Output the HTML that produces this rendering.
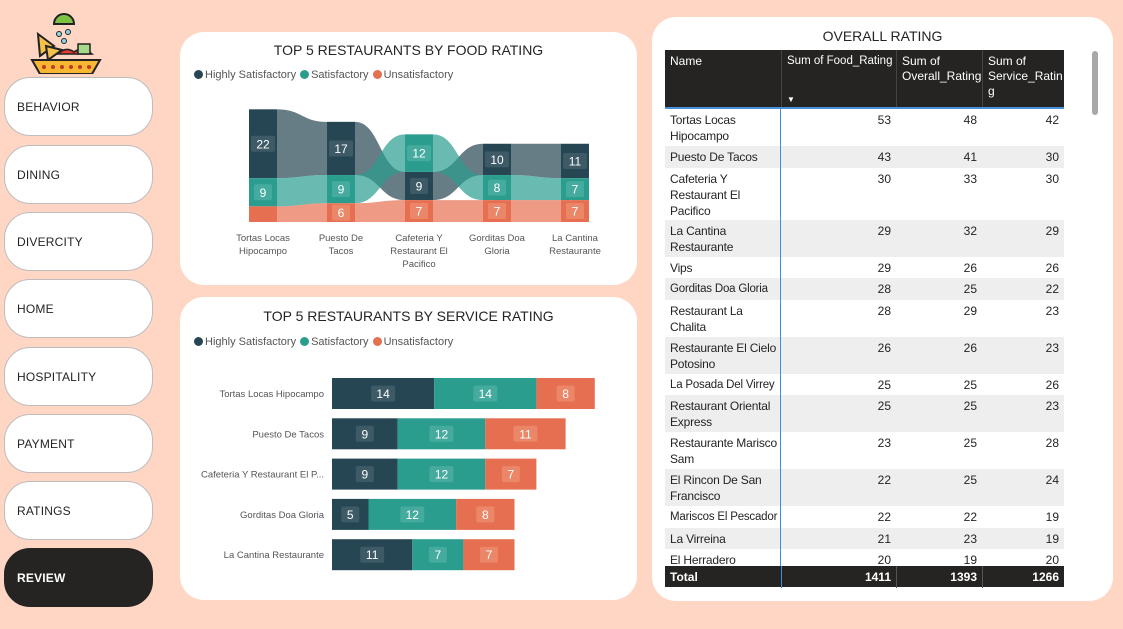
<!DOCTYPE html>
<html><head><meta charset="utf-8">
<style>
*{box-sizing:border-box;margin:0;padding:0}
body{width:1123px;height:629px;background:#ffd5c4;font-family:"Liberation Sans",sans-serif;position:relative;overflow:hidden}
.nav{position:absolute;left:4px;width:149px;height:59px;background:#fff;border:1px solid #bdbdbd;border-radius:26px;font-size:12px;color:#252423;padding-left:12px;line-height:59px;letter-spacing:0.2px}
.nav.active{background:#252423;color:#fff;font-weight:bold;border-color:#252423}
.panel{position:absolute;background:#fff;border-radius:24px}
.title{position:absolute;width:100%;text-align:center;font-size:14px;color:#252423}
.legend{position:absolute;font-size:11px;color:#555;display:flex;gap:4px;align-items:center}
.dot{display:inline-block;width:9px;height:9px;border-radius:50%;margin-right:2px;vertical-align:-1px}
#tbl{position:absolute;left:13px;top:33px;width:399px;height:538px;font-size:12px;color:#252423;overflow:hidden}
.hd{position:absolute;top:0;height:58px;background:#252423;color:#fff;padding:4px 5px;line-height:15px;white-space:nowrap;border-left:1px solid #444}
.row{position:absolute;left:0;width:399px}
.row.alt{background:#eeeeee}
.cell{position:absolute;top:0;padding:3px 5px;line-height:16px;white-space:nowrap}
.num{text-align:right}
.tot{position:absolute;left:0;top:516px;width:399px;height:21px;background:#252423;color:#fff;font-weight:bold}
</style></head><body>

<svg style="position:absolute;left:28px;top:6px" width="76" height="68" viewBox="0 0 76 68">
<path d="M26 18 a10 10 0 0 1 20 0z" fill="#7cc243" stroke="#222" stroke-width="2"/>
<circle cx="31" cy="28" r="2.5" fill="#8fd3e8" stroke="#222" stroke-width="1"/>
<circle cx="40" cy="26" r="2.5" fill="#8fd3e8" stroke="#222" stroke-width="1"/>
<circle cx="36" cy="35" r="2.5" fill="#8fd3e8" stroke="#222" stroke-width="1"/>
<path d="M10 28 L26 40 L12 50z" fill="#f7c04a" stroke="#222" stroke-width="2"/>
<path d="M18 40 L34 44 L20 54z" fill="#f7c04a" stroke="#222" stroke-width="2"/>
<path d="M30 48 q8-8 16-2 q8-6 18 2z" fill="#e63b2e" stroke="#222" stroke-width="1.5"/>
<rect x="50" y="38" width="12" height="10" fill="#a7d98b" stroke="#222" stroke-width="1.5"/>
<path d="M4 54 L72 54 L64 68 L12 68z" fill="#f7b733" stroke="#222" stroke-width="2"/>
<g fill="#c0392b"><circle cx="16" cy="61" r="2"/><circle cx="25" cy="61" r="2"/><circle cx="34" cy="61" r="2"/><circle cx="43" cy="61" r="2"/><circle cx="52" cy="61" r="2"/><circle cx="61" cy="61" r="2"/></g>
</svg>

<div class="nav" style="top:77px">BEHAVIOR</div>
<div class="nav" style="top:145px">DINING</div>
<div class="nav" style="top:212px">DIVERCITY</div>
<div class="nav" style="top:279px">HOME</div>
<div class="nav" style="top:347px">HOSPITALITY</div>
<div class="nav" style="top:414px">PAYMENT</div>
<div class="nav" style="top:481px">RATINGS</div>
<div class="nav active" style="top:548px">REVIEW</div>

<div class="panel" style="left:180px;top:32px;width:457px;height:253px">
 <div class="title" style="top:10px">TOP 5 RESTAURANTS BY FOOD RATING</div>
 <div class="legend" style="left:14px;top:37px">
  <span><i class="dot" style="background:#264653"></i>Highly Satisfactory</span>
  <span><i class="dot" style="background:#2a9d8f"></i>Satisfactory</span>
  <span><i class="dot" style="background:#e76f51"></i>Unsatisfactory</span>
 </div>
</div>
<svg id="ribbon" style="position:absolute;left:180px;top:32px" width="457" height="253"></svg>

<div class="panel" style="left:180px;top:297px;width:457px;height:303px">
 <div class="title" style="top:11px">TOP 5 RESTAURANTS BY SERVICE RATING</div>
 <div class="legend" style="left:14px;top:39px">
  <span><i class="dot" style="background:#264653"></i>Highly Satisfactory</span>
  <span><i class="dot" style="background:#2a9d8f"></i>Satisfactory</span>
  <span><i class="dot" style="background:#e76f51"></i>Unsatisfactory</span>
 </div>
</div>
<svg id="bars" style="position:absolute;left:180px;top:297px" width="457" height="303"></svg>

<div class="panel" style="left:652px;top:17px;width:461px;height:584px">
 <div class="title" style="top:11px">OVERALL RATING</div>
 <div style="position:absolute;left:440px;top:34px;width:6px;height:64px;background:#a8a8a8;border-radius:3px"></div>
 <div id="tbl">
  <div class="hd" style="left:0;width:116px;border-left:none">Name</div>
  <div class="hd" style="left:116px;width:115px;font-size:11.5px">Sum of Food_Rating<div style="position:absolute;left:5px;top:42px;font-size:8px">&#9660;</div></div>
  <div class="hd" style="left:231px;width:86px">Sum of<br>Overall_Rating</div>
  <div class="hd" style="left:317px;width:82px">Sum of<br>Service_Ratin<br>g</div>
  <div style="position:absolute;left:0;top:57px;width:399px;height:2px;background:#4a90d9"></div>
  <div id="rows"></div>
  <div style="position:absolute;left:115px;top:59px;width:1px;height:460px;background:#3a8ee6"></div>
  <div class="tot">
   <div class="cell" style="left:0;width:116px;padding-top:3px">Total</div>
   <div class="cell num" style="left:116px;width:115px;padding-top:3px;border-left:1px solid #3a8ee6">1411</div>
   <div class="cell num" style="left:231px;width:86px;padding-top:3px;border-left:1px solid #555">1393</div>
   <div class="cell num" style="left:317px;width:82px;padding-top:3px;border-left:1px solid #555">1266</div>
  </div>
 </div>
</div>

<script>
const NS="http://www.w3.org/2000/svg";
const colors=["#264653","#2a9d8f","#e76f51"];
const labelFill=["#3d5a66","#45ab9e","#ec8668"];
function mk(tag,attrs,parent){const e=document.createElementNS(NS,tag);for(const k in attrs)e.setAttribute(k,attrs[k]);parent.appendChild(e);return e;}

// ----- Food ribbon chart -----
const foodCats=[["Tortas Locas","Hipocampo"],["Puesto De","Tacos"],["Cafeteria Y","Restaurant El","Pacifico"],["Gorditas Doa","Gloria"],["La Cantina","Restaurante"]];
const foodHighly=[22,17,9,10,11];
const foodSatisfactory=[9,9,12,8,7];
const foodUnsatisfactory=[5,6,7,7,7];
(function(){
 const svg=document.getElementById('ribbon');
 const series=[foodHighly,foodSatisfactory,foodUnsatisfactory];
 const base=190, k=3.13, x0=69, step=78, bw=28;
 const xs=i=>x0+i*step;
 const pos=foodCats.map((c,i)=>{
  const idx=[0,1,2].sort((a,b)=>series[a][i]-series[b][i]||b-a);
  let y=base;const p={};
  idx.forEach(s=>{const h=series[s][i]*k;p[s]={y0:y-h,y1:y};y-=h;});
  return p;
 });
 for(let i=0;i<foodCats.length-1;i++){
  [0,1,2].forEach(s=>{
   const a=pos[i][s],b=pos[i+1][s];
   const xa=xs(i)+bw,xb=xs(i+1),m=(xa+xb)/2;
   const d=`M${xa},${a.y0} C${m},${a.y0} ${m},${b.y0} ${xb},${b.y0} L${xb},${b.y1} C${m},${b.y1} ${m},${a.y1} ${xa},${a.y1}Z`;
   const p=mk('path',{d:d,fill:colors[s],opacity:0.7},svg);
   
   
  });
 }
 foodCats.forEach((c,i)=>{
  [0,1,2].forEach(s=>{
   const q=pos[i][s];
   const r=mk('rect',{x:xs(i),y:q.y0,width:bw,height:q.y1-q.y0,fill:colors[s]},svg);
   
   
   const v=series[s][i];
   if(v>=6){
    const cy=(q.y0+q.y1)/2;
    const w=v>=10?24:18;
    mk('rect',{x:xs(i)+bw/2-w/2,y:cy-8,width:w,height:16,rx:2,fill:labelFill[s]},svg);
    const t=mk('text',{x:xs(i)+bw/2,y:cy+4.5,'text-anchor':'middle','font-size':12,fill:'#fff'},svg);
    t.textContent=v;
    
    
   }
  });
  c.forEach((ln,j)=>{
   const t=mk('text',{x:xs(i)+bw/2,y:209+j*13,'text-anchor':'middle','font-size':9.5,fill:'#555'},svg);
   t.textContent=ln;
   
   
  });
 });
})();

// ----- Service bar chart -----
const svcCats=["Tortas Locas Hipocampo","Puesto De Tacos","Cafeteria Y Restaurant El P...","Gorditas Doa Gloria","La Cantina Restaurante"];
const svcHighly=[14,9,9,5,11];
const svcSatisfactory=[14,12,12,12,7];
const svcUnsatisfactory=[8,11,7,8,7];
(function(){
 const svg=document.getElementById('bars');
 const series=[svcHighly,svcSatisfactory,svcUnsatisfactory];
 const x0=152,k=7.3,y0=81,step=40.3,bh=31;
 svcCats.forEach((c,i)=>{
  const y=y0+i*step;
  const t=mk('text',{x:x0-8,y:y+bh/2+3.5,'text-anchor':'end','font-size':9.5,fill:'#555'},svg);
  t.textContent=c;
  
  
  let x=x0;
  series.forEach((ser,s)=>{
   const w=ser[i]*k;
   const r=mk('rect',{x:x,y:y,width:w,height:bh,fill:colors[s]},svg);
   
   
   const lw=ser[i]>=10?24:18;
   mk('rect',{x:x+w/2-lw/2,y:y+bh/2-8,width:lw,height:16,rx:2,fill:labelFill[s]},svg);
   const lt=mk('text',{x:x+w/2,y:y+bh/2+4.5,'text-anchor':'middle','font-size':12,fill:'#fff'},svg);
   lt.textContent=ser[i];
   
   
   x+=w;
  });
 });
})();

// ----- Table -----
const tblNames=["Tortas Locas|Hipocampo","Puesto De Tacos","Cafeteria Y|Restaurant El|Pacifico","La Cantina|Restaurante","Vips","Gorditas Doa Gloria","Restaurant La|Chalita","Restaurante El Cielo|Potosino","La Posada Del Virrey","Restaurant Oriental|Express","Restaurante Marisco|Sam","El Rincon De San|Francisco","Mariscos El Pescador","La Virreina","El Herradero"];
const tblFood=[53,43,30,29,29,28,28,26,25,25,23,22,22,21,20];
const tblOverall=[48,41,33,32,26,25,29,26,25,25,25,25,22,23,19];
const tblService=[42,30,30,29,26,22,23,23,26,23,28,24,19,19,20];
(function(){
 const box=document.getElementById('rows');
 let top=59;
 tblNames.forEach((n,i)=>{
  const lines=n.split('|');
  const h=lines.length===1?21.5:(lines.length===2?37:52);
  const r=document.createElement('div');
  r.className='row'+(i%2===1?' alt':'');
  r.style.top=top+'px';r.style.height=h+'px';
  
  
  const fs=(n.length>18&&lines.length===1)?'11.5px':'12px';
  r.innerHTML=`<div class="cell" style="left:0;width:116px;font-size:${fs};letter-spacing:-0.2px">${lines.join('<br>')}</div><div class="cell num" style="left:116px;width:115px">${tblFood[i]}</div><div class="cell num" style="left:231px;width:86px">${tblOverall[i]}</div><div class="cell num" style="left:317px;width:82px">${tblService[i]}</div>`;
  box.appendChild(r);
  top+=h;
 });
})();
</script>
</body></html>
